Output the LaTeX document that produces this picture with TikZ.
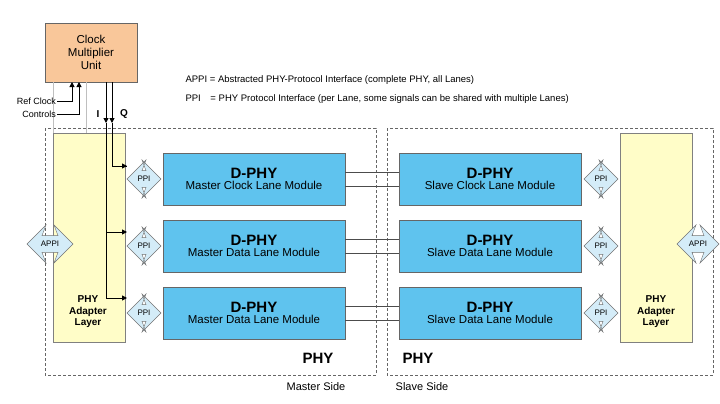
\documentclass[tikz,border=0pt]{standalone}
\usepackage{fontspec}
\setmainfont{Liberation Sans}
\usetikzlibrary{positioning,calc,arrows.meta,shapes.arrows}
\definecolor{modblue}{HTML}{5FC3EE}
\definecolor{ppiblue}{HTML}{D4ECF8}
\definecolor{adapt}{HTML}{FFFDC8}
\definecolor{cmu}{HTML}{F9C79A}
\tikzset{
  module/.style={draw=black!60,fill=modblue,minimum width=182pt,minimum height=52pt,align=center,inner sep=0pt},
  ppi/.style={double arrow,draw=black!55,fill=ppiblue,minimum height=34pt,minimum width=38pt,
    double arrow head extend=5pt,double arrow head indent=4pt,inner sep=1pt,font=\fontsize{8}{9}\selectfont},
  side/.style={draw=black!60,dash pattern=on 3pt off 2pt},
  adapter/.style={draw=black!50,fill=adapt,minimum width=72pt,minimum height=209pt,inner sep=0pt},
  wire/.style={black!70,line width=0.6pt},
  sig/.style={black,line width=1pt,-{Triangle[length=5pt,width=5pt]}}
}
\newcommand*{\dphy}[1]{{\fontsize{15}{16}\selectfont\bfseries D-PHY}\\[-1pt]{\fontsize{11.5}{13}\selectfont #1}}

\begin{document}
\begin{tikzpicture}[x=1pt,y=-1pt]
\useasboundingbox (0,0) rectangle (720,404);
% Dashed sides
\draw[side] (45,128) rectangle (376,375);
\draw[side] (387,128) rectangle (713,375);
% Adapter layers
\node[adapter,anchor=north west] (adl) at (53,133) {};
\node[adapter,anchor=north west] (adr) at (620,133) {};
\node[align=center,font=\fontsize{10}{11.5}\selectfont\bfseries] at (88,312) {PHY\\Adapter\\Layer};
\node[align=center,font=\fontsize{10}{11.5}\selectfont\bfseries] at (656,312) {PHY\\Adapter\\Layer};
% Clock multiplier unit
\node[draw=black!60,fill=cmu,minimum width=92pt,minimum height=59pt,align=center,
  font=\fontsize{11.5}{13}\selectfont] (cmu) at (91,52.5) {Clock\\Multiplier\\Unit};
\draw[black!25] (53,82) -- (53,133);
\draw[black!25] (86,82) -- (86,133);
% Modules
\node[module] (m1) at (254,179) {\dphy{Master Clock Lane Module}};
\node[module] (m2) at (254,246) {\dphy{Master Data Lane Module}};
\node[module] (m3) at (254,313) {\dphy{Master Data Lane Module}};
\node[module] (s1) at (490,179) {\dphy{Slave Clock Lane Module}};
\node[module] (s2) at (490,246) {\dphy{Slave Data Lane Module}};
\node[module] (s3) at (490,313) {\dphy{Slave Data Lane Module}};
% Lane wires
\foreach \r in {1,2,3}{
  \draw[wire] ($(m\r.east)+(0,-7)$) -- ($(s\r.west)+(0,-7)$);
  \draw[wire] ($(m\r.east)+(0,7)$) -- ($(s\r.west)+(0,7)$);
}
% PPI and APPI
\node[ppi] (pl1) at (144,179) {PPI};
\node[ppi] (pl2) at (144,246) {PPI};
\node[ppi] (pl3) at (144,313) {PPI};
\node[ppi] (pr1) at (601,179) {PPI};
\node[ppi] (pr2) at (601,246) {PPI};
\node[ppi] (pr3) at (601,313) {PPI};
\node[ppi,minimum height=46pt] (al) at (50,244) {APPI};
\node[ppi,minimum height=42pt] (ar) at (698,244) {APPI};
% Clock I/Q
\coordinate (iq) at (106,82);
\coordinate (qq) at (112,82);
\draw[sig] (iq) -- (106,123);
\draw[sig] (qq) -- (112,123);
\draw[wire,black] (112,123) |- (127,166);
\draw[wire,black] (106,123) -- (106,298);
\draw[sig] (112,166) -- (127,166);
\draw[sig] (106,232) -- (127,232);
\draw[sig] (106,298) -- (127,298);
\node[font=\fontsize{10}{11}\selectfont\bfseries] at (98,114) {I};
\node[font=\fontsize{10}{11}\selectfont\bfseries] at (124,114) {Q};
% Ref clock / controls
\node[anchor=east,font=\fontsize{9}{10}\selectfont,inner sep=1pt] (ref) at (57,101) {Ref Clock};
\node[anchor=east,font=\fontsize{9}{10}\selectfont,inner sep=1pt] (ctl) at (57,114) {Controls};
\draw[sig] (ref.east) -| (72,82);
\draw[sig] (ctl.east) -| (79,82);
% Legend
\node[anchor=west,font=\fontsize{9.5}{11}\selectfont] at (182,80) {APPI = Abstracted PHY-Protocol Interface (complete PHY, all Lanes)};
\node[anchor=west,font=\fontsize{9.5}{11}\selectfont] at (182,99) {PPI\hspace{7pt} = PHY Protocol Interface (per Lane, some signals can be shared with multiple Lanes)};
% Side labels
\node[font=\fontsize{15}{16}\selectfont\bfseries] at (318,358) {PHY};
\node[font=\fontsize{15}{16}\selectfont\bfseries] at (418,358) {PHY};
\node[font=\fontsize{11}{12}\selectfont] at (316,387) {Master Side};
\node[font=\fontsize{11}{12}\selectfont] at (422,387) {Slave Side};
\end{tikzpicture}
\end{document}
